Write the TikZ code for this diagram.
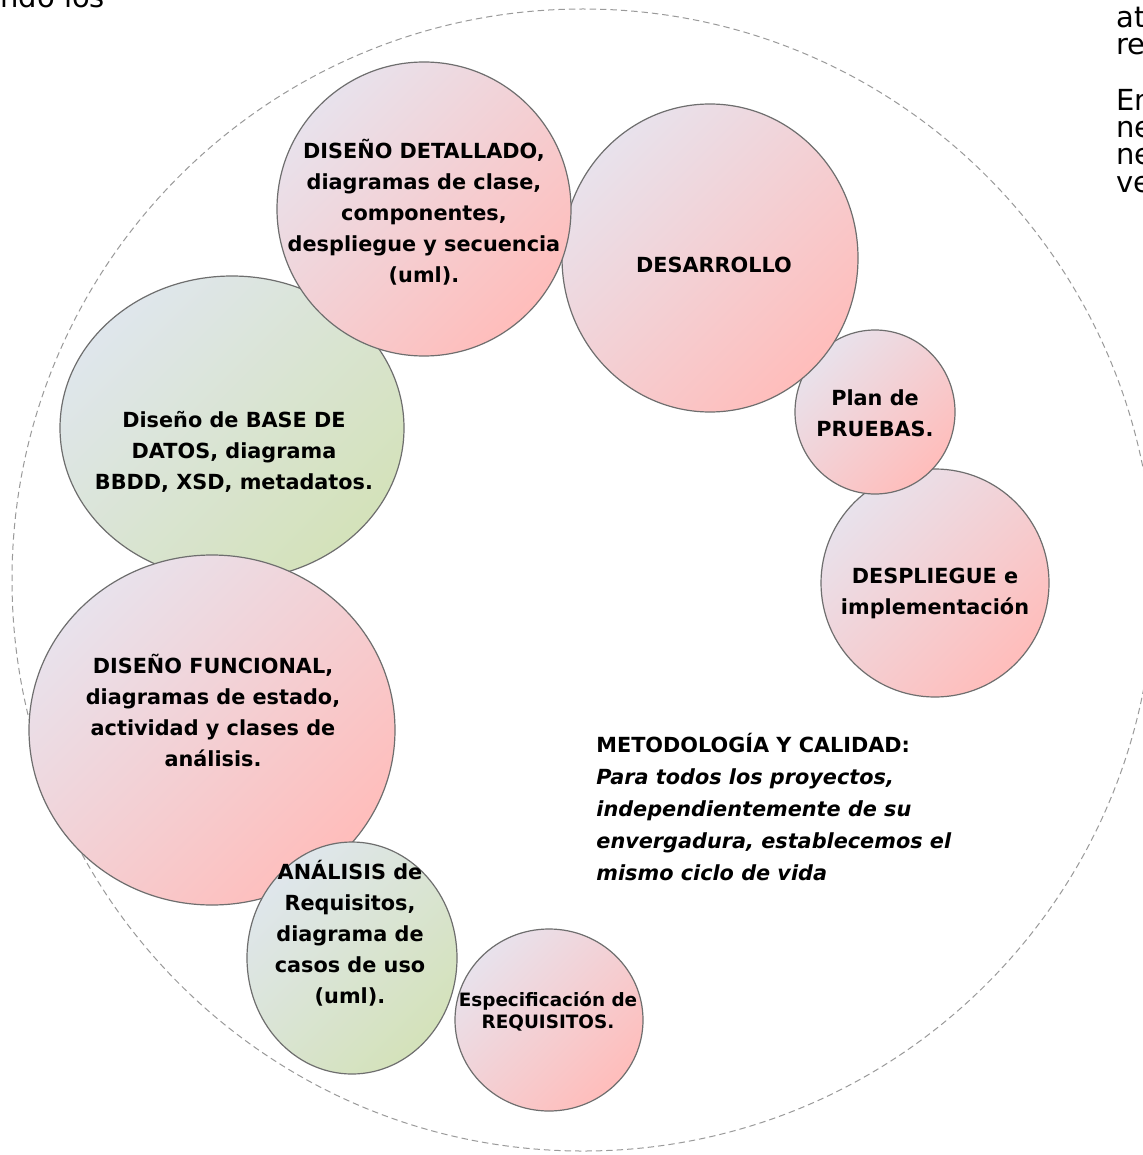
\documentclass[tikz,border=0pt]{standalone}
\usepackage{fontspec}
\setmainfont{DejaVu Sans}
\usetikzlibrary{shapes.geometric}
\definecolor{pinkA}{HTML}{E8E2EC}
\definecolor{pinkB}{HTML}{FFBDBB}
\definecolor{greenA}{HTML}{DFE6EC}
\definecolor{greenB}{HTML}{D4E2BA}
\definecolor{rim}{HTML}{6E6E6E}
\definecolor{dashgray}{HTML}{9A9A9A}
\begin{document}
\begin{tikzpicture}[x=0.5pt,y=-0.5pt,
  bubble/.style={ellipse, draw=rim, line width=0.6pt, inner sep=0pt},
  pinkbub/.style={bubble, top color=pinkA, bottom color=pinkB, shading angle=45},
  greenbub/.style={bubble, top color=greenA, bottom color=greenB, shading angle=45},
  lbl/.style={align=center, inner sep=0pt, font=\bfseries\fontsize{10.4}{15.5}\selectfont},
  side/.style={anchor=base west, inner sep=0pt, font=\fontsize{14.5}{14.5}\selectfont},
]
\useasboundingbox (0,0) rectangle (1143,1155);
\clip (0,0) rectangle (1143,1155);
\fill[white] (0,0) rectangle (1143,1155);

% outer dashed ring
\node[circle, draw=dashgray, dash pattern=on 3.2pt off 2pt, line width=0.5pt, minimum size=571pt, inner sep=0pt] (ring) at (583,580) {};

% bubbles (drawing order gives the overlaps)
\node[pinkbub, minimum width=114pt, minimum height=114pt] (despliegue) at (935,583) {};
\node[pinkbub, minimum width=80pt, minimum height=82pt] (pruebas) at (875,412) {};
\node[pinkbub, minimum width=148pt, minimum height=154pt] (desarrollo) at (710,258) {};
\node[greenbub, minimum width=172pt, minimum height=152pt] (base) at (232,428) {};
\node[pinkbub, minimum width=147pt, minimum height=147pt] (detallado) at (424,209) {};
\node[pinkbub, minimum width=183pt, minimum height=175pt] (funcional) at (212,730) {};
\node[greenbub, minimum width=105pt, minimum height=116pt] (analisis) at (352,958) {};
\node[pinkbub, minimum width=94pt, minimum height=91pt] (especif) at (549,1020) {};

% labels
\node[lbl] (tdetallado) at (424,212) {DISEÑO DETALLADO,\\diagramas de clase,\\componentes,\\despliegue y secuencia\\(uml).};
\node[lbl] (tdesarrollo) at (714,265) {DESARROLLO};
\node[lbl] (tpruebas) at (875,413) {Plan de\\PRUEBAS.};
\node[lbl] (tdespliegue) at (935,593) {DESPLIEGUE e\\implementación};
\node[lbl] (tbase) at (234,452) {Diseño de BASE DE\\DATOS, diagrama\\BBDD, XSD, metadatos.};
\node[lbl] (tfuncional) at (213,710) {DISEÑO FUNCIONAL,\\diagramas de estado,\\actividad y clases de\\análisis.};
\node[lbl] (tanalisis) at (350,933) {ANÁLISIS de\\Requisitos,\\diagrama de\\casos de uso\\(uml).};
\node[lbl, font=\bfseries\fontsize{9.2}{11}\selectfont] (tespecif) at (548,1011) {Especificación de\\REQUISITOS.};

\node[anchor=north west, align=left, inner sep=0pt, font=\fontsize{10.4}{16}\selectfont] (metod) at (596,733)
  {\textbf{METODOLOGÍA Y CALIDAD:}\\\textbf{\itshape Para todos los proyectos,}\\\textbf{\itshape independientemente de su}\\\textbf{\itshape envergadura, establecemos el}\\\textbf{\itshape mismo ciclo de vida}};

% cut-off page text
\node[side] (frag0) at (0,8) {ndo los};
\node[side] (frag1) at (1116,28) {at};
\node[side] (frag2) at (1116,55) {re};
\node[side] (frag3) at (1116,111) {En};
\node[side] (frag4) at (1116,138) {ne};
\node[side] (frag5) at (1116,165) {ne};
\node[side] (frag6) at (1116,192) {ve};
\end{tikzpicture}
\end{document}
